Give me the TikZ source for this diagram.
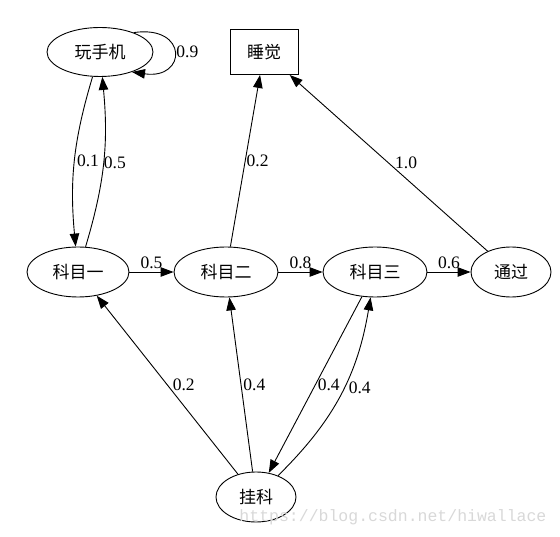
\documentclass[tikz,border=0pt]{standalone}
\usepackage{fontspec}
\setmainfont{Liberation Serif}
\newfontfamily\cjk{Noto Sans CJK SC}
\newfontfamily\wmfont{Liberation Mono}
\usetikzlibrary{shapes.geometric,arrows.meta}
\definecolor{wmgray}{RGB}{216,216,216}

\begin{document}
\begin{tikzpicture}[x=1pt, y=1pt, line width=0.9pt, >={Triangle[length=13pt,width=9.5pt]},
  state/.style={draw, ellipse, inner sep=0pt, minimum height=50pt, font=\cjk\fontsize{17}{20}\selectfont},
  lbl/.style={font=\fontsize{17.5}{20}\selectfont, inner sep=2pt}]
\useasboundingbox (0,0) rectangle (560,-537);
\node[state, minimum width=106pt, minimum height=49pt] (phone) at (100,-52) {玩手机};
\node[draw, inner sep=0pt, minimum width=68pt, minimum height=45pt, font=\cjk\fontsize{17}{20}\selectfont] (sleep) at (264,-52) {睡觉};
\node[state, minimum width=102pt] (k1) at (78,-272) {科目一};
\node[state, minimum width=104pt] (k2) at (226,-272) {科目二};
\node[state, minimum width=104pt] (k3) at (375,-272) {科目三};
\node[state, minimum width=80pt] (pass) at (511,-272) {通过};
\node[state, minimum width=80pt] (fail) at (256,-497) {挂科};

\draw[->] (phone.30) .. controls +(55,8) and +(55,-8) .. (phone.-32) node[lbl, pos=0.5, anchor=west] (l09) {0.9};
\draw[->] (phone) to[bend right=11] node[lbl, anchor=west] (l01) {0.1} (k1);
\draw[->] (k1) to[bend right=11] node[lbl, anchor=west, xshift=-2pt] (l05a) {0.5} (phone);
\draw[->] (k1) -- node[lbl, above, yshift=1pt] (l05b) {0.5} (k2);
\draw[->] (k2) -- node[lbl, above, yshift=1pt] (l08) {0.8} (k3);
\draw[->] (k3) -- node[lbl, above, yshift=1pt] (l06) {0.6} (pass);
\draw[->] (k2) -- node[lbl, anchor=west, xshift=-1pt] (l02a) {0.2} (sleep);
\draw[->] (pass) -- node[lbl, anchor=west, xshift=4pt] (l10) {1.0} (sleep);
\draw[->] (fail) -- node[lbl, anchor=west, xshift=3pt] (l02b) {0.2} (k1);
\draw[->] (fail) -- node[lbl, anchor=west] (l04a) {0.4} (k2);
\draw[->] (k3) -- node[lbl, anchor=west] (l04b) {0.4} (fail);
\draw[->] (fail) to[bend right=18] node[lbl, anchor=west, xshift=6pt, yshift=7pt] (l04c) {0.4} (k3);

\node[font=\wmfont\fontsize{16.5}{18}\selectfont, text=wmgray, anchor=base west, inner sep=0pt] (wm) at (239,-521) {https://blog.csdn.net/hiwallace};
\end{tikzpicture}
\end{document}
